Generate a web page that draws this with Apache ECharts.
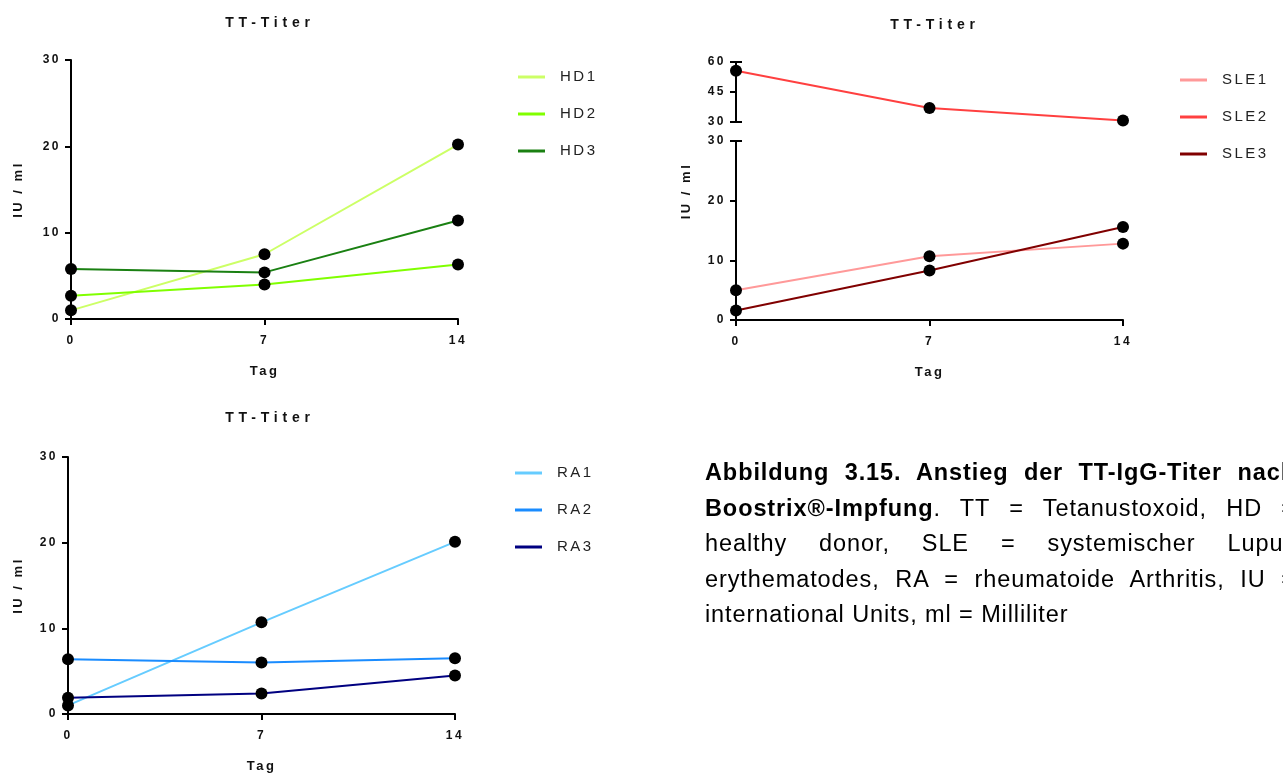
<!DOCTYPE html>
<html>
<head>
<meta charset="utf-8">
<script src="https://cdn.jsdelivr.net/npm/echarts@6/dist/echarts.min.js"></script>
<style>
html,body{margin:0;padding:0;background:#fff;overflow:hidden;width:1283px;height:776px;}
#chart{position:absolute;left:0;top:0;width:1283px;height:776px;}
#caption{position:absolute;left:705px;top:455px;width:591px;font-family:"Liberation Sans",Arial,sans-serif;font-size:23.5px;letter-spacing:0.9px;line-height:35.5px;color:#000;white-space:nowrap;}
#caption .j{text-align:justify;text-align-last:justify;}
#caption .l{text-align:left;}
</style>
</head>
<body>
<div id="chart"></div>
<div id="caption">
<div class="j"><b>Abbildung 3.15. Anstieg der TT-IgG-Titer nach</b></div>
<div class="j"><b>Boostrix®-Impfung</b>. TT = Tetanustoxoid, HD =</div>
<div class="j">healthy donor, SLE = systemischer Lupus</div>
<div class="j">erythematodes, RA = rheumatoide Arthritis, IU =</div>
<div class="l">international Units, ml = Milliliter</div>
</div>
<script>
const days = [0, 7, 14];
const dayTicks = ['0', '7', '14'];
const hdNames = ['HD1', 'HD2', 'HD3'];
const hd1 = [1.0, 7.5, 20.2];
const hd2 = [2.7, 4.0, 6.3];
const hd3 = [5.8, 5.4, 11.4];
const sleNames = ['SLE1', 'SLE2', 'SLE3'];
const sle1 = [5.0, 10.7, 12.8];
const sle2 = [55.6, 37.0, 30.8];
const sle3 = [1.6, 8.3, 15.6];
const raNames = ['RA1', 'RA2', 'RA3'];
const ra1 = [1.0, 10.7, 20.1];
const ra2 = [6.4, 6.0, 6.5];
const ra3 = [1.9, 2.4, 4.5];
const panelTitle = 'TT-Titer';
const yName = 'IU / ml';
const xName = 'Tag';

const hdColors = ['#ccff66', '#80ff00', '#1a8012'];
const sleColors = ['#ff9999', '#ff4040', '#800000'];
const raColors = ['#66ccff', '#1a8cff', '#000080'];

const FONT = '"Liberation Sans", Arial, sans-serif';
const pts = arr => days.map((d, i) => [d, arr[i]]);

function xAx(grid, show) {
  return {
    type: 'value', gridIndex: grid, min: 0, max: 14, interval: 7, show: show,
    name: xName, nameLocation: 'middle', nameGap: 46,
    nameTextStyle: {fontFamily: FONT, fontWeight: 'bold', fontSize: 13, color: '#111'},
    axisLine: {show: true, lineStyle: {color: '#000', width: 2}},
    axisTick: {show: true, length: 6, lineStyle: {color: '#000', width: 2}},
    axisLabel: {margin: 16, fontFamily: FONT, fontWeight: 'bold', fontSize: 12, color: '#111',
      formatter: v => dayTicks[days.indexOf(v)]},
    splitLine: {show: false}
  };
}
function yAx(grid, min, max, interval, extra) {
  return Object.assign({
    type: 'value', gridIndex: grid, min: min, max: max, interval: interval, position: 'left',
    axisLine: {show: true, lineStyle: {color: '#000', width: 2}},
    axisTick: {show: true, length: 6, lineStyle: {color: '#000', width: 2}},
    axisLabel: {margin: 10, fontFamily: FONT, fontWeight: 'bold', fontSize: 12, color: '#111'},
    splitLine: {show: false}
  }, extra || {});
}
const yNameStyle = {fontFamily: FONT, fontWeight: 'bold', fontSize: 13, color: '#111'};

function lineSeries(name, arr, color, xi, yi) {
  return {name: name, type: 'line', xAxisIndex: xi, yAxisIndex: yi, data: pts(arr),
    showSymbol: false, lineStyle: {color: color, width: 2}, itemStyle: {color: color}, z: 2, animation: false};
}
function dotSeries(arr, xi, yi) {
  return {type: 'scatter', xAxisIndex: xi, yAxisIndex: yi, data: pts(arr), symbol: 'circle', symbolSize: 12,
    itemStyle: {color: '#000', opacity: 1}, z: 5, animation: false, silent: true};
}
function legendData(names, colors) {
  return names.map((n, i) => ({name: n, icon: 'rect', itemStyle: {color: colors[i]}}));
}
function legend(names, colors, left, top) {
  return {data: legendData(names, colors), orient: 'vertical', left: left, top: top, padding: 0,
    itemWidth: 27, itemHeight: 3, itemGap: 22,
    textStyle: {fontFamily: FONT, fontSize: 15, color: '#222', padding: [0, 0, 0, 10]}};
}
function title(left, top) {
  return {text: panelTitle, left: left, top: top, textAlign: 'center', zlevel: 1,
    textStyle: {fontFamily: FONT, fontWeight: 'bold', fontSize: 14, color: '#111'}};
}

const chart = echarts.init(document.getElementById('chart'), null, {renderer: 'canvas'});
try {
  const painter = chart.getZr().painter;
  const l0 = painter.getLayer(0);
  if (l0 && l0.ctx) l0.ctx.letterSpacing = '2.5px';
  const l1 = painter.getLayer(1);
  if (l1 && l1.ctx) l1.ctx.letterSpacing = '4.8px';
} catch (e) {}
chart.setOption({
  animation: false,
  backgroundColor: '#fff',
  title: [title(265, 11), title(930, 13), title(265, 406)],
  legend: [legend(hdNames, hdColors, 518, 69.5), legend(sleNames, sleColors, 1180, 72.5), legend(raNames, raColors, 515, 465.5)],
  grid: [
    {left: 71, top: 60, width: 387, height: 259},
    {left: 736, top: 62, width: 387, height: 60},
    {left: 736, top: 141, width: 387, height: 179},
    {left: 68, top: 457, width: 387, height: 257},
    {left: 736, top: 62, width: 387, height: 258}
  ],
  xAxis: [xAx(0, true), xAx(1, false), xAx(2, true), xAx(3, true), xAx(4, false)],
  yAxis: [
    yAx(0, 0, 30, 10, {name: yName, nameLocation: 'middle', nameGap: 46, nameTextStyle: yNameStyle}),
    yAx(1, 30, 60, 15),
    yAx(2, 0, 30, 10),
    yAx(3, 0, 30, 10, {name: yName, nameLocation: 'middle', nameGap: 43, nameTextStyle: yNameStyle}),
    yAx(4, 0, 30, 10, {name: yName, nameLocation: 'middle', nameGap: 43, nameTextStyle: yNameStyle,
      axisLine: {show: false}, axisTick: {show: false}, axisLabel: {show: false}}),
    yAx(1, 30, 60, 30, {axisLine: {show: false}, axisLabel: {show: false},
      axisTick: {show: true, inside: true, length: 6, lineStyle: {color: '#000', width: 2}}}),
    yAx(2, 0, 30, 30, {axisLine: {show: false}, axisLabel: {show: false},
      axisTick: {show: true, inside: true, length: 6, lineStyle: {color: '#000', width: 2}}})
  ],
  series: [
    lineSeries(hdNames[0], hd1, hdColors[0], 0, 0),
    lineSeries(hdNames[1], hd2, hdColors[1], 0, 0),
    lineSeries(hdNames[2], hd3, hdColors[2], 0, 0),
    dotSeries(hd1, 0, 0), dotSeries(hd2, 0, 0), dotSeries(hd3, 0, 0),
    lineSeries(sleNames[0], sle1, sleColors[0], 2, 2),
    lineSeries(sleNames[1], sle2, sleColors[1], 1, 1),
    lineSeries(sleNames[2], sle3, sleColors[2], 2, 2),
    dotSeries(sle1, 2, 2), dotSeries(sle2, 1, 1), dotSeries(sle3, 2, 2),
    lineSeries(raNames[0], ra1, raColors[0], 3, 3),
    lineSeries(raNames[1], ra2, raColors[1], 3, 3),
    lineSeries(raNames[2], ra3, raColors[2], 3, 3),
    dotSeries(ra1, 3, 3), dotSeries(ra2, 3, 3), dotSeries(ra3, 3, 3)
  ]
});
</script>
</body>
</html>
